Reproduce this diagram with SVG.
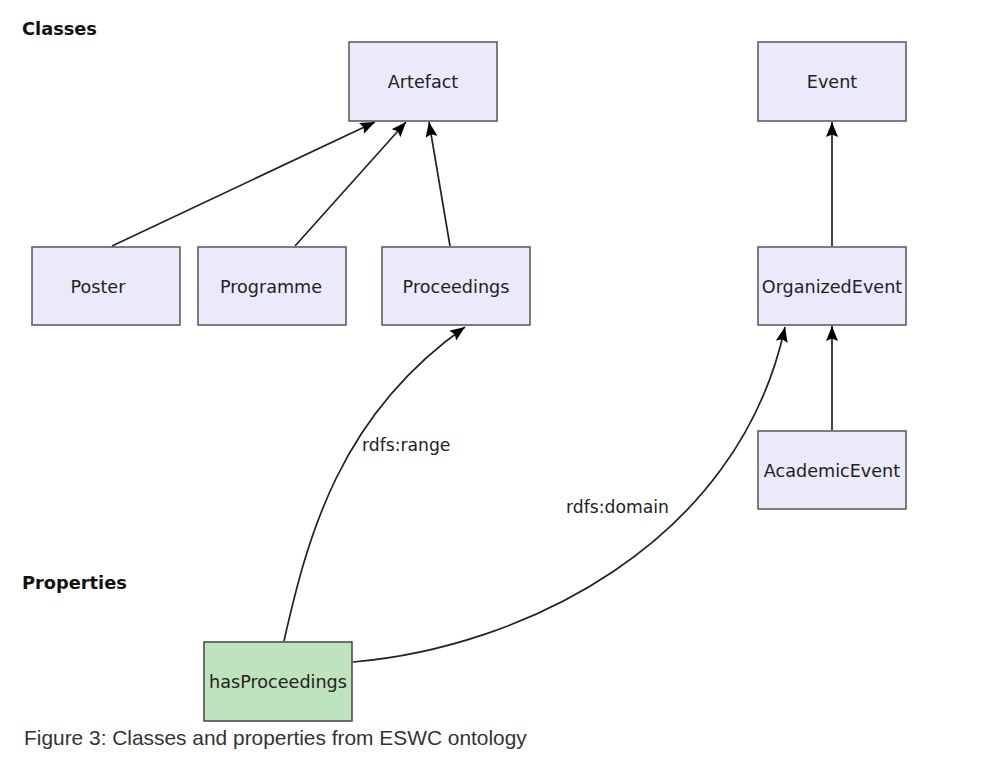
<svg xmlns="http://www.w3.org/2000/svg" width="1005" height="767" viewBox="0 0 1005 767">
<style>
.cls rect{fill:#eaeafb;stroke:#555;stroke-width:1.5}
.prop rect{fill:#bfe3bc;stroke:#444;stroke-width:1.5}
.lbl{font-family:"DejaVu Sans",sans-serif;font-size:17.6px;fill:#222;text-anchor:middle}
.head{font-family:"DejaVu Sans",sans-serif;font-size:17.8px;font-weight:bold;fill:#111}
.elbl{font-family:"DejaVu Sans",sans-serif;font-size:17.2px;fill:#222}
.edge{fill:none;stroke:#222;stroke-width:1.7;marker-end:url(#arr)}
.cap{font-family:"Liberation Sans",Arial,sans-serif;font-size:20.9px;fill:#333}
</style>
<defs>
<marker id="arr" viewBox="0 0 15 12" refX="15" refY="6" markerWidth="15" markerHeight="12" markerUnits="userSpaceOnUse" orient="auto">
<path d="M0,0 L15,6 L0,12 L2.5,6 Z" fill="#000"/>
</marker>
</defs>
<rect width="1005" height="767" fill="#fff"/>
<text class="head" x="22" y="35">Classes</text>
<text class="head" x="22" y="589">Properties</text>

<g id="connectors">
<line class="edge" x1="112" y1="246" x2="375" y2="122"/>
<line class="edge" x1="295" y1="246" x2="406" y2="122"/>
<line class="edge" x1="450" y1="246" x2="429" y2="122"/>
<line class="edge" x1="832" y1="246" x2="832" y2="122"/>
<line class="edge" x1="832" y1="430" x2="832" y2="326"/>
<path class="edge" d="M284,641 C308,535 340,415 465,327"/>
<path class="edge" d="M353,662 C520,648 738,545 785,327"/>
<text class="elbl" x="362" y="451">rdfs:range</text>
<text class="elbl" x="566" y="513">rdfs:domain</text>
</g>

<g id="artefact" class="cls"><rect x="349" y="42" width="148" height="79"/><text class="lbl" x="423" y="88">Artefact</text></g>
<g id="event" class="cls"><rect x="758" y="42" width="148" height="79"/><text class="lbl" x="832" y="88">Event</text></g>
<g id="poster" class="cls"><rect x="32" y="247" width="148" height="78"/><text class="lbl" x="98" y="293">Poster</text></g>
<g id="programme" class="cls"><rect x="198" y="247" width="148" height="78"/><text class="lbl" x="271" y="293">Programme</text></g>
<g id="proceedings" class="cls"><rect x="382" y="247" width="148" height="78"/><text class="lbl" x="456" y="293">Proceedings</text></g>
<g id="organizedevent" class="cls"><rect x="758" y="247" width="148" height="78"/><text class="lbl" x="832" y="293">OrganizedEvent</text></g>
<g id="academicevent" class="cls"><rect x="758" y="431" width="148" height="78"/><text class="lbl" x="832" y="477">AcademicEvent</text></g>
<g id="hasproceedings" class="prop"><rect x="204" y="642" width="148" height="79"/><text class="lbl" x="278" y="688">hasProceedings</text></g>

<text class="cap" x="24" y="745">Figure 3: Classes and properties from ESWC ontology</text>
</svg>
